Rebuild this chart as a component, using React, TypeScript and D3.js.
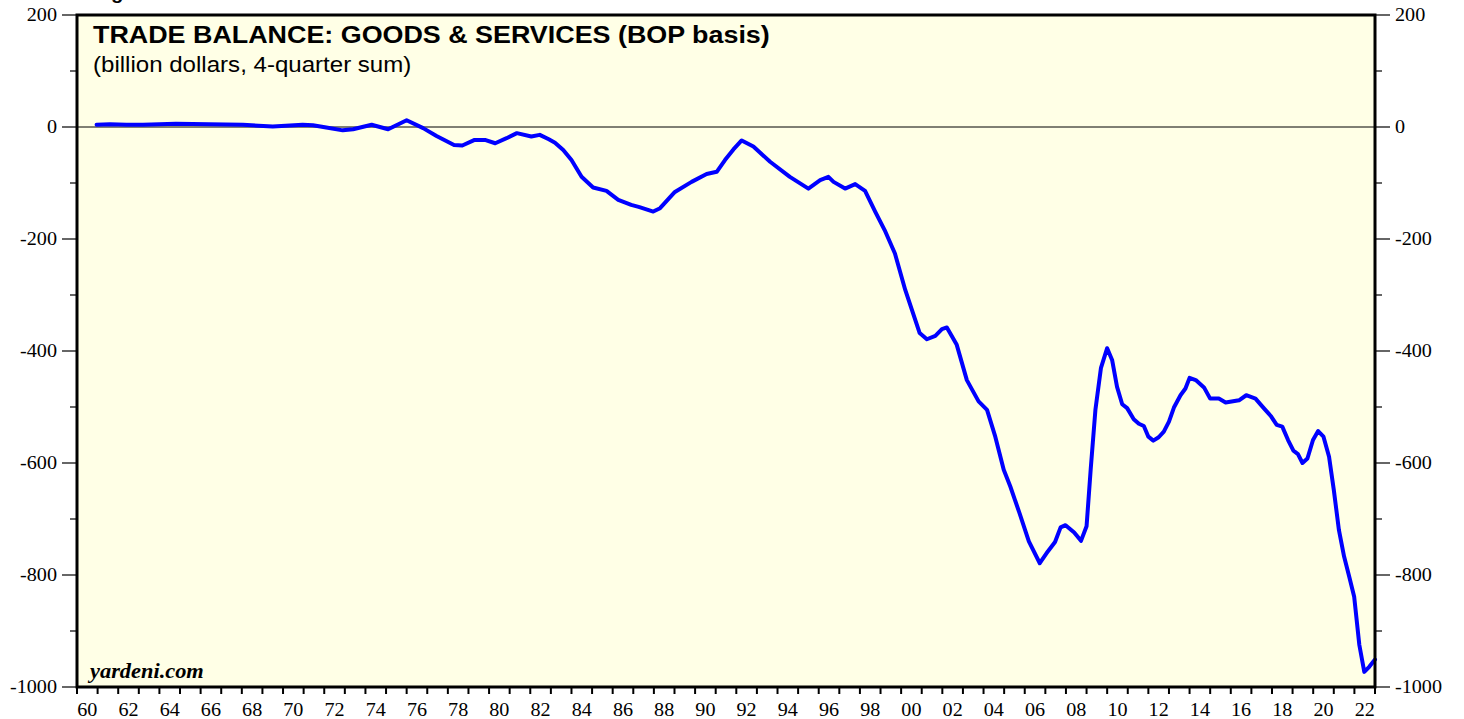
import React from 'react';
import * as d3 from 'd3';

// quarterly-ish readings of the 4-quarter sum, billion dollars
const years = [
  1960.95, 1961.6, 1962.4, 1963.2, 1964.8, 1966.4, 1968.05, 1969.5, 1970.95, 1971.45,
  1972.1, 1972.9, 1973.4, 1974.3, 1975.1, 1976.0, 1976.8, 1977.45, 1978.3, 1978.7,
  1979.3, 1979.8, 1980.3, 1980.85, 1981.35, 1982.05, 1982.46, 1982.9, 1983.2, 1983.6,
  1984.0, 1984.49, 1985.05, 1985.7, 1986.27, 1986.9, 1987.3, 1987.97, 1988.3, 1989.02,
  1989.83, 1990.56, 1991.05, 1991.45, 1991.86, 1992.26, 1992.83, 1993.64, 1994.6, 1995.5,
  1996.07, 1996.47, 1996.72, 1997.28, 1997.77, 1998.25, 1998.74, 1999.2, 1999.7, 2000.2,
  2000.9, 2001.25, 2001.66, 2001.98, 2002.22, 2002.7, 2003.19, 2003.76, 2004.17, 2004.57,
  2004.98, 2005.3, 2005.75, 2006.2, 2006.73, 2007.12, 2007.47, 2007.74, 2007.98, 2008.4,
  2008.73, 2009.0, 2009.2, 2009.43, 2009.7, 2010.0, 2010.24, 2010.48, 2010.73, 2010.97,
  2011.29, 2011.54, 2011.78, 2012.0, 2012.24, 2012.5, 2012.75, 2013.0, 2013.24, 2013.56,
  2013.8, 2014.0, 2014.3, 2014.7, 2015.0, 2015.42, 2015.75, 2016.4, 2016.75, 2017.2,
  2017.6, 2017.94, 2018.23, 2018.5, 2018.78, 2019.04, 2019.26, 2019.48, 2019.72, 2019.99,
  2020.24, 2020.5, 2020.77, 2021.0, 2021.25, 2021.5, 2021.75, 2021.99, 2022.24, 2022.48,
  2022.72, 2023.0,
];
const balance = [
  4, 5, 4, 4, 6, 5, 4, 1, 4, 3,
  -1, -6, -4, 4, -4, 12, -2, -16, -32, -33,
  -23, -23, -29, -20, -11, -17, -14, -22, -28, -41,
  -59, -89, -108, -114, -130, -139, -143, -151, -145, -116,
  -98, -84, -80, -59, -40, -24, -35, -62, -89, -110,
  -95, -89, -98, -110, -102, -114, -151, -184, -226, -291,
  -368, -379, -373, -361, -358, -389, -452, -490, -505, -553,
  -612, -642, -690, -740, -779, -758, -741, -715, -711, -724,
  -739, -713, -612, -505, -430, -395, -416, -464, -495, -502,
  -522, -530, -534, -553, -560, -554, -544, -526, -501, -479,
  -467, -448, -452, -465, -485, -485, -492, -488, -479, -485,
  -502, -516, -532, -535, -559, -578, -584, -600, -592, -559,
  -543, -553, -589, -648, -720, -767, -803, -839, -925, -973,
  -964, -951,
];

const yMajor = [200, 0, -200, -400, -600, -800, -1000];
const yMinor = [100, -100, -300, -500, -700, -900];
const xLabelYears = d3.range(1960, 2023, 2);
const xTickYears = d3.range(1960, 2024, 1);

const title = 'TRADE BALANCE: GOODS & SERVICES (BOP basis)';
const subtitle = '(billion dollars, 4-quarter sum)';

const W = 1464;
const H = 719;
const left = 77;
const right = 1375;
const top = 15;
const bottom = 687;
const sx = 1.12; // the reference text is a bit wide

export default function App() {
  const x = d3.scaleLinear().domain([1960, 2023]).range([left, right]);
  const y = d3.scaleLinear().domain([-1000, 200]).range([bottom, top]);
  const pts = years.map((yr, i) => [yr, balance[i]] as [number, number]);
  const line = d3.line<[number, number]>().x(d => x(d[0])).y(d => y(d[1]))(pts) || '';

  const serif = '"Liberation Serif", "Times New Roman", serif';
  const sans = '"Liberation Sans", Arial, sans-serif';

  return (
    <svg width={W} height={H} style={{ position: 'absolute', left: 0, top: 0, background: '#fff' }}>
      <text transform={`translate(93,-1) scale(${sx},1)`} fontFamily={sans} fontWeight="bold" fontSize={18} fill="#000">Figure 1.</text>
      <rect x={left} y={top} width={right - left} height={bottom - top} fill="#ffffe6" />
      <line x1={left} x2={right} y1={y(0)} y2={y(0)} stroke="#000" strokeWidth={1} />
      <path d={line} fill="none" stroke="#0000ff" strokeWidth={4} strokeLinejoin="round" strokeLinecap="round" />
      <rect x={left} y={top} width={right - left} height={bottom - top} fill="none" stroke="#000" strokeWidth={3} />

      {yMajor.map(v => (
        <g key={'M' + v}>
          <line x1={left - 15} x2={left} y1={y(v)} y2={y(v)} stroke="#000" strokeWidth={1.2} />
          <line x1={right} x2={right + 15} y1={y(v)} y2={y(v)} stroke="#000" strokeWidth={1.2} />
          <text transform={`translate(${left - 20},${y(v) + 6}) scale(${sx},1)`} textAnchor="end" fontFamily={serif} fontSize={18} fill="#000">{v}</text>
          <text transform={`translate(${right + 20},${y(v) + 6}) scale(${sx},1)`} textAnchor="start" fontFamily={serif} fontSize={18} fill="#000">{v}</text>
        </g>
      ))}
      {yMinor.map(v => (
        <g key={'m' + v}>
          <line x1={left - 7} x2={left} y1={y(v)} y2={y(v)} stroke="#000" strokeWidth={1.2} />
          <line x1={right} x2={right + 7} y1={y(v)} y2={y(v)} stroke="#000" strokeWidth={1.2} />
        </g>
      ))}

      {xTickYears.map(yr => (
        <line key={'t' + yr} x1={x(yr)} x2={x(yr)} y1={bottom} y2={bottom + 7} stroke="#000" strokeWidth={2} />
      ))}
      {xLabelYears.map(yr => (
        <text key={'l' + yr} transform={`translate(${x(yr + 0.5)},716) scale(${sx},1)`} textAnchor="middle" fontFamily={serif} fontSize={18} fill="#000">
          {String(yr % 100).padStart(2, '0')}
        </text>
      ))}

      <text transform={`translate(93,43) scale(${sx},1)`} fontFamily={sans} fontWeight="bold" fontSize={24} fill="#000">{title}</text>
      <text transform={`translate(93,72) scale(${sx},1)`} fontFamily={sans} fontSize={21.5} fill="#000">{subtitle}</text>
      <text transform={`translate(90,678) scale(${sx},1)`} fontFamily={serif} fontWeight="bold" fontStyle="italic" fontSize={20} fill="#000">yardeni.com</text>
    </svg>
  );
}
